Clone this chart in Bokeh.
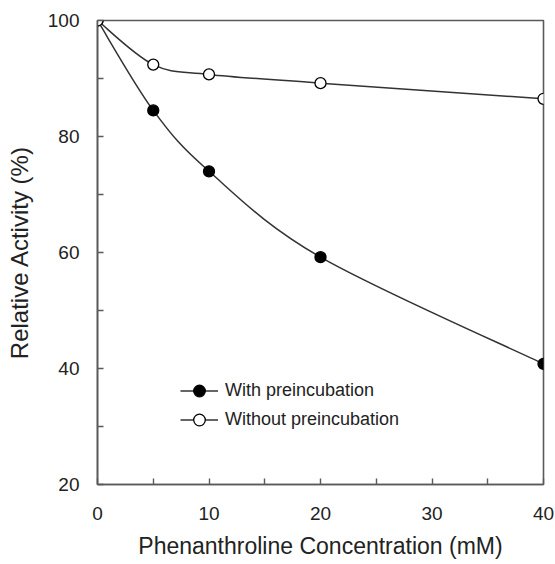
from bokeh.plotting import figure
from bokeh.models import FixedTicker, Legend, LegendItem, Range1d
from bokeh.embed import file_html
from bokeh.resources import INLINE

# Data
conc = [0, 5, 10, 20, 40]
with_pre = [100, 84.5, 74.0, 59.2, 40.8]
without_pre = [100, 92.4, 90.7, 89.2, 86.5]
x_ticks = [0, 10, 20, 30, 40]
x_minor = [5, 15, 25, 35]
y_ticks = [20, 40, 60, 80, 100]
y_minor = [30, 50, 70, 90]
labels = ["With preincubation", "Without preincubation"]

FONT = "Liberation Sans"
FRAME = "#5a5a5a"
LINE = "#333333"

p = figure(width=555, height=564, output_backend="svg", toolbar_location=None,
           x_range=Range1d(0, 40), y_range=Range1d(20, 100),
           min_border_left=97, min_border_right=12, min_border_top=20,
           min_border_bottom=80)
p.grid.visible = False
p.outline_line_color = FRAME
p.outline_line_width = 1.6


def smooth_segments(xs, ys):
    """Catmull-Rom style control points for a smooth curve through the data."""
    n = len(xs)
    x0, y0, x1, y1, cx0, cy0, cx1, cy1 = [], [], [], [], [], [], [], []
    for i in range(n - 1):
        pm = i - 1 if i > 0 else i
        pp = i + 2 if i + 2 < n else i + 1
        x0.append(xs[i]); y0.append(ys[i])
        x1.append(xs[i + 1]); y1.append(ys[i + 1])
        cx0.append(xs[i] + (xs[i + 1] - xs[pm]) / 6.0)
        cy0.append(ys[i] + (ys[i + 1] - ys[pm]) / 6.0)
        cx1.append(xs[i + 1] - (xs[pp] - xs[i]) / 6.0)
        cy1.append(ys[i + 1] - (ys[pp] - ys[i]) / 6.0)
    return dict(x0=x0, y0=y0, x1=x1, y1=y1, cx0=cx0, cy0=cy0, cx1=cx1, cy1=cy1)


items = []
for series, fill, lab in [(with_pre, "black", labels[0]), (without_pre, "white", labels[1])]:
    seg = smooth_segments(conc, series)
    bz = p.bezier(x0=seg["x0"], y0=seg["y0"], x1=seg["x1"], y1=seg["y1"],
                  cx0=seg["cx0"], cy0=seg["cy0"], cx1=seg["cx1"], cy1=seg["cy1"],
                  line_color=LINE, line_width=1.5)
    sc = p.scatter(conc, series, size=11, marker="circle", fill_color=fill,
                   line_color="black", line_width=1.3)
    items.append(LegendItem(label=lab, renderers=[bz, sc]))

legend = Legend(items=items, location=(83, 50), padding=0, margin=0,
                border_line_color=None, background_fill_alpha=0,
                glyph_width=38, glyph_height=29, label_height=29, spacing=0,
                label_standoff=7, label_text_font=FONT, label_text_font_size="18px",
                label_text_color="#222222")
p.add_layout(legend, "center")

for ax in (p.xaxis[0], p.yaxis[0]):
    ax.axis_line_color = FRAME
    ax.axis_line_width = 1.6
    ax.major_tick_line_color = FRAME
    ax.minor_tick_line_color = FRAME
    ax.major_tick_line_width = 1.4
    ax.minor_tick_line_width = 1.4
    ax.major_tick_in = 6
    ax.major_tick_out = 0
    ax.minor_tick_in = 6
    ax.minor_tick_out = 0
    ax.major_label_text_font = FONT
    ax.major_label_text_font_size = "19px"
    ax.major_label_text_color = "#222222"
    ax.axis_label_text_font = FONT
    ax.axis_label_text_font_style = "normal"
    ax.axis_label_text_color = "#222222"

p.xaxis[0].ticker = FixedTicker(ticks=x_ticks, minor_ticks=x_minor)
p.yaxis[0].ticker = FixedTicker(ticks=y_ticks, minor_ticks=y_minor)
p.xaxis[0].axis_label = "Phenanthroline Concentration (mM)"
p.yaxis[0].axis_label = "Relative Activity (%)"
p.xaxis[0].axis_label_text_font_size = "23px"
p.yaxis[0].axis_label_text_font_size = "24px"
p.xaxis[0].major_label_standoff = 22
p.yaxis[0].major_label_standoff = 18
p.xaxis[0].axis_label_standoff = 10
p.yaxis[0].axis_label_standoff = 12

open("out.html", "w").write(file_html(p, INLINE))
